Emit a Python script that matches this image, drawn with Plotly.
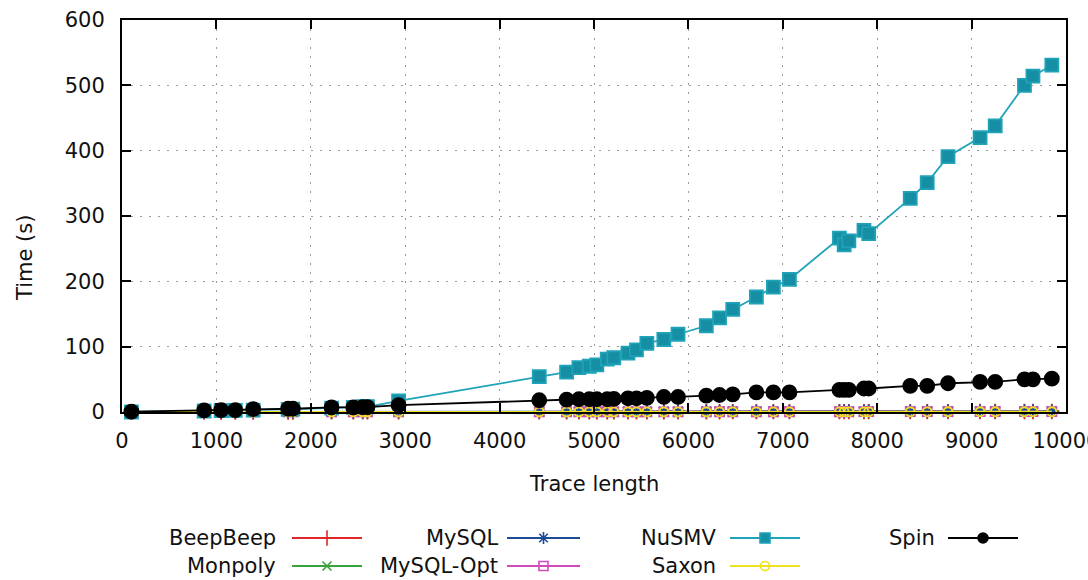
import plotly.graph_objects as go

# Trace lengths shared by every tool
trace_length = [100, 870, 1050, 1200, 1390, 1760, 1810, 2220, 2450, 2550, 2600, 2930,
                4420, 4710, 4840, 4950, 5030, 5140, 5210, 5360, 5450, 5560, 5740, 5890,
                6190, 6330, 6470, 6720, 6900, 7070, 7600, 7650, 7700, 7860, 7910,
                8350, 8530, 8750, 9090, 9250, 9560, 9650, 9850]

# Running time (s) of each tool
beepbeep = [0.0, 0.1, 0.1, 0.1, 0.1, 0.1, 0.1, 0.2, 0.2, 0.2, 0.2, 0.2,
            0.3, 0.3, 0.3, 0.3, 0.3, 0.3, 0.3, 0.4, 0.4, 0.4, 0.4, 0.4,
            0.4, 0.4, 0.5, 0.5, 0.5, 0.5, 0.5, 0.5, 0.5, 0.6, 0.6,
            0.6, 0.6, 0.6, 0.7, 0.7, 0.7, 0.7, 0.8]
monpoly = [0.0, 0.0, 0.0, 0.0, 0.1, 0.1, 0.1, 0.1, 0.1, 0.1, 0.1, 0.1,
           0.2, 0.2, 0.2, 0.2, 0.2, 0.2, 0.2, 0.2, 0.2, 0.2, 0.3, 0.3,
           0.3, 0.3, 0.3, 0.3, 0.3, 0.3, 0.4, 0.4, 0.4, 0.4, 0.4,
           0.4, 0.4, 0.4, 0.5, 0.5, 0.5, 0.5, 0.5]
mysql = [0.1, 0.1, 0.1, 0.2, 0.2, 0.2, 0.2, 0.3, 0.3, 0.3, 0.3, 0.4,
         0.6, 0.6, 0.6, 0.7, 0.7, 0.7, 0.7, 0.8, 0.8, 0.8, 0.8, 0.9,
         0.9, 0.9, 1.0, 1.0, 1.0, 1.1, 1.2, 1.2, 1.2, 1.2, 1.2,
         1.3, 1.3, 1.4, 1.4, 1.4, 1.5, 1.5, 1.5]
mysql_opt = [0.0, 0.1, 0.1, 0.1, 0.1, 0.1, 0.1, 0.1, 0.1, 0.1, 0.1, 0.2,
             0.2, 0.2, 0.2, 0.2, 0.2, 0.3, 0.3, 0.3, 0.3, 0.3, 0.3, 0.3,
             0.3, 0.4, 0.4, 0.4, 0.4, 0.4, 0.4, 0.4, 0.4, 0.5, 0.5,
             0.5, 0.5, 0.5, 0.5, 0.5, 0.6, 0.6, 0.6]
nusmv = [0, 1.5, 2, 2.5, 3, 4, 4.5, 6, 7, 8, 8, 17,
         54, 61, 68, 70, 72, 81, 83, 90, 95, 105, 111, 119,
         132, 144, 157, 176, 191, 203, 266, 256, 262, 278, 273,
         327, 351, 391, 420, 438, 500, 514, 531]
saxon = [0.0, 0.0, 0.0, 0.0, 0.0, 0.1, 0.1, 0.1, 0.1, 0.1, 0.1, 0.1,
         0.1, 0.1, 0.2, 0.2, 0.2, 0.2, 0.2, 0.2, 0.2, 0.2, 0.2, 0.2,
         0.2, 0.3, 0.3, 0.3, 0.3, 0.3, 0.3, 0.3, 0.3, 0.3, 0.3,
         0.3, 0.3, 0.4, 0.4, 0.4, 0.4, 0.4, 0.4]
spin = [0.5, 2.5, 3, 3, 4.5, 5, 5, 7, 7, 7.5, 7.5, 10.5,
        18, 19, 19.5, 19.5, 19.5, 19.5, 20, 21, 21, 21.5, 23, 23,
        25, 26, 27, 30, 30, 30, 34, 34, 34, 36, 36,
        40, 40, 44, 46, 46, 50, 50, 51]

series_names = ["BeepBeep", "Monpoly", "MySQL", "MySQL-Opt", "NuSMV", "Saxon", "Spin"]
series_values = [beepbeep, monpoly, mysql, mysql_opt, nusmv, saxon, spin]

x_ticks = list(range(0, 10001, 1000))
y_ticks = list(range(0, 601, 100))

# Styles (line colour, marker symbol, marker size in plot, marker fill, key marker size)
styles = {
    "BeepBeep":  dict(color="#e0262a", symbol="cross-thin-open", size=11, fill=None, key=11),
    "Monpoly":   dict(color="#38a33a", symbol="x-thin-open", size=10, fill=None, key=9),
    "MySQL":     dict(color="#1d4c96", symbol="asterisk-open", size=11, fill=None, key=10),
    "MySQL-Opt": dict(color="#d04cbc", symbol="square-open", size=9, fill=None, key=9),
    "NuSMV":     dict(color="#1fa3b8", symbol="square", size=13, fill="#168fa4", key=10),
    "Saxon":     dict(color="#eee21a", symbol="circle-open", size=9, fill=None, key=9),
    "Spin":      dict(color="#000000", symbol="circle", size=14, fill="#000000", key=10),
}

W, H = 1088, 580
PLOT_L, PLOT_R, PLOT_T, PLOT_B = 122, 1066, 20, 412
FONT = "DejaVu Sans"
FS = 21
TEXT = "#111111"

fig = go.Figure()

for name, vals in zip(series_names, series_values):
    st = styles[name]
    marker = dict(symbol=st["symbol"], size=st["size"],
                  color=st["fill"] if st["fill"] else st["color"],
                  line=dict(color=st["color"], width=1.8))
    fig.add_trace(go.Scatter(
        x=trace_length, y=vals, name=name, mode="lines+markers",
        line=dict(color=st["color"], width=1.8),
        marker=marker, cliponaxis=False, showlegend=False,
        xaxis="x", yaxis="y"))

# Key: label on the left, sample line with one point on the right
key_cols = {"BeepBeep": (278, 292, 362, 538), "Monpoly": (278, 292, 362, 566),
            "MySQL": (500, 507, 580, 538), "MySQL-Opt": (500, 507, 580, 566),
            "NuSMV": (718, 730, 800, 538), "Saxon": (718, 730, 800, 566),
            "Spin": (937, 948, 1018, 538)}
annotations = []
for name in series_names:
    st = styles[name]
    tx, x0, x1, yy = key_cols[name]
    fig.add_trace(go.Scatter(
        x=[x0, (x0 + x1) / 2, x1], y=[yy, yy, yy], mode="lines+markers",
        line=dict(color=st["color"], width=1.8),
        marker=dict(symbol=st["symbol"], size=st["key"],
                    color=st["fill"] if st["fill"] else st["color"],
                    line=dict(color=st["color"], width=1.6),
                    opacity=[0, 1, 0]),
        showlegend=False, hoverinfo="skip", cliponaxis=False,
        xaxis="x2", yaxis="y2"))
    annotations.append(dict(x=tx, y=yy, xref="x2", yref="y2", text=name,
                            showarrow=False, xanchor="right", yanchor="middle",
                            font=dict(family=FONT, size=FS, color=TEXT)))

annotations.append(dict(x=(PLOT_L + PLOT_R) / 2, y=484, xref="x2", yref="y2",
                        text="Trace length", showarrow=False,
                        xanchor="center", yanchor="middle",
                        font=dict(family=FONT, size=FS, color=TEXT)))
annotations.append(dict(x=25, y=258, xref="x2", yref="y2", text="Time (s)",
                        showarrow=False, textangle=-90,
                        xanchor="center", yanchor="middle",
                        font=dict(family=FONT, size=FS, color=TEXT)))

axis_common = dict(showline=True, linecolor="#000", linewidth=2, mirror="allticks",
                   ticks="inside", ticklen=9, tickwidth=2, tickcolor="#000",
                   showgrid=True, gridcolor="#9a9a9a", gridwidth=1,
                   griddash="2px,7px", zeroline=False, automargin=False,
                   ticklabeloverflow="allow",
                   tickfont=dict(family=FONT, size=FS, color=TEXT))

fig.update_layout(
    template="none",
    width=W, height=H,
    margin=dict(l=0, r=0, t=0, b=0, pad=0),
    paper_bgcolor="white", plot_bgcolor="rgba(0,0,0,0)",
    xaxis=dict(domain=[PLOT_L / W, PLOT_R / W], range=[0, 10000],
               tickvals=x_ticks, ticktext=[str(v) for v in x_ticks],
               anchor="y", ticklabelstandoff=9, **axis_common),
    yaxis=dict(domain=[(H - PLOT_B) / H, (H - PLOT_T) / H], range=[0, 600],
               tickvals=y_ticks, ticktext=[str(v) for v in y_ticks],
               anchor="x", ticklabelstandoff=11, **axis_common),
    xaxis2=dict(domain=[0, 1], range=[0, W], visible=False, anchor="y2",
                fixedrange=True, automargin=False),
    yaxis2=dict(domain=[0, 1], range=[H, 0], visible=False, anchor="x2",
                fixedrange=True, automargin=False),
    annotations=annotations,
    showlegend=False,
)

fig.write_html("out.html")
